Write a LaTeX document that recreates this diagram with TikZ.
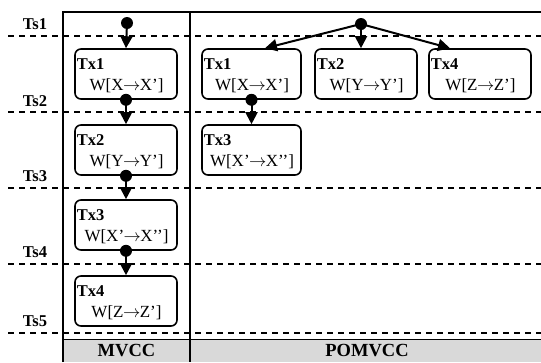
\documentclass[tikz,border=0pt]{standalone}
\usepackage{fontspec}
\setmainfont{Liberation Serif}
\usetikzlibrary{arrows.meta,calc}
\definecolor{bandgray}{HTML}{D9D9D9}
\newcommand{\wto}{\kern-0.5pt$\rightarrow$\kern-0.5pt}
\begin{document}
\begin{tikzpicture}[x=1pt,y=-1pt,
  txbox/.style={draw,line width=1.6pt,rounded corners=6pt,minimum height=50pt,inner sep=0pt},
  txname/.style={font=\fontsize{16.5}{16.5}\selectfont\bfseries,anchor=west,inner sep=0pt},
  txop/.style={font=\fontsize{17}{17}\selectfont,inner sep=0pt},
  dot/.style={circle,fill,inner sep=0pt,minimum size=12pt},
  flow/.style={line width=2pt,-{Triangle[length=12pt,width=12pt]}},
  tsline/.style={line width=1.5pt,dash pattern=on 6pt off 5pt},
  tslabel/.style={font=\fontsize{16.5}{16.5}\selectfont\bfseries,inner sep=0pt},
  headlabel/.style={font=\fontsize{18.5}{18.5}\selectfont\bfseries,inner sep=0pt},
  frame/.style={line width=2pt}]
\useasboundingbox (0,0) rectangle (541,362);

% grey footer band under both columns
\fill[bandgray] (63,339) rectangle (545,362);
\draw[line width=1.4pt] (63,339.5) -- (545,339.5);

% timestamp rows
\foreach \y in {36,112,188,264,333}
  \draw[tsline] (8,\y) -- (545,\y);
\node[tslabel] (ts1) at (35,24) {Ts1};
\node[tslabel] (ts2) at (35,101) {Ts2};
\node[tslabel] (ts3) at (35,176) {Ts3};
\node[tslabel] (ts4) at (35,252) {Ts4};
\node[tslabel] (ts5) at (35,321) {Ts5};

% column frame
\draw[frame] (63,362) -- (63,12) -- (545,12);
\draw[frame] (190,12) -- (190,362);
\node[headlabel] (hm) at (126.5,351) {MVCC};
\node[headlabel] (hp) at (367,351) {POMVCC};

% MVCC: serial chain of transactions
\node[txbox,minimum width=102pt] (m1) at (126,74) {};
\node[txbox,minimum width=102pt] (m2) at (126,150) {};
\node[txbox,minimum width=102pt] (m3) at (126,225) {};
\node[txbox,minimum width=102pt] (m4) at (126,301) {};

% POMVCC: partially ordered transactions
\node[txbox,minimum width=99pt] (q1) at (251.5,74) {};
\node[txbox,minimum width=102pt] (q2) at (366,74) {};
\node[txbox,minimum width=102pt] (q4) at (480,74) {};
\node[txbox,minimum width=99pt] (q3) at (251.5,150) {};

% box contents
\foreach \b/\n/\w in {m1/Tx1/{W[X\wto X’]}, m2/Tx2/{W[Y\wto Y’]}, m3/Tx3/{W[X’\wto X’’]}, m4/Tx4/{W[Z\wto Z’]},
                      q1/Tx1/{W[X\wto X’]}, q2/Tx2/{W[Y\wto Y’]}, q4/Tx4/{W[Z\wto Z’]}, q3/Tx3/{W[X’\wto X’’]}} {
  \node[txname] (\b-name) at ($(\b.north west)+(2.5,16)$) {\n};
  \node[txop] (\b-op) at ($(\b.center)+(0.5,12)$) {\w};
}

% MVCC dots and arrows
\node[dot] (d0) at (127,23) {};
\node[dot] (d1) at (m1.south) {};
\node[dot] (d2) at (m2.south) {};
\node[dot] (d3) at (m3.south) {};
\draw[flow] (d0.center) -- (m1.north);
\draw[flow] (d1.center) -- (m2.north);
\draw[flow] (d2.center) -- (m3.north);
\draw[flow] (d3.center) -- (m4.north);

% POMVCC dots and arrows
\node[dot] (p0) at (361,24) {};
\node[dot] (p1) at (q1.south) {};
\coordinate (q1in) at ($(q1.north)+(13.5,0)$);
\coordinate (q2in) at ($(q2.north)+(-5,0)$);
\coordinate (q4in) at ($(q4.north)+(-30,0)$);
\draw[flow] (p0.center) -- (q1in);
\draw[flow] (p0.center) -- (q2in);
\draw[flow] (p0.center) -- (q4in);
\draw[flow] (p1.center) -- (q3.north);
\end{tikzpicture}
\end{document}
